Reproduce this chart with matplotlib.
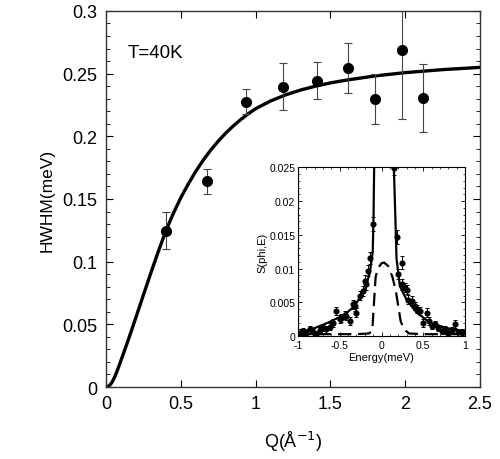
import matplotlib
matplotlib.use("Agg")
import matplotlib.pyplot as plt
from matplotlib.ticker import MultipleLocator

plt.rcParams['font.family'] = ['Liberation Sans', 'DejaVu Sans']

# ---- main panel data ----
q_data = [0.40, 0.673, 0.934, 1.18, 1.408, 1.618, 1.80, 1.976, 2.12]
hwhm = [0.1248, 0.164, 0.2275, 0.2397, 0.2445, 0.2548, 0.2296, 0.269, 0.2306]
hwhm_err = [0.015, 0.010, 0.010, 0.019, 0.015, 0.020, 0.020, 0.055, 0.027]

q_fit = [0, 0.0125, 0.025, 0.0375, 0.05, 0.0625, 0.075, 0.0875, 0.1, 0.125, 0.15,
         0.175, 0.2, 0.25, 0.3, 0.35, 0.4, 0.45, 0.5, 0.55, 0.6, 0.65, 0.7, 0.75,
         0.8, 0.85, 0.9, 0.95, 1.0, 1.1, 1.2, 1.3, 1.4, 1.5, 1.6, 1.8, 2.0, 2.25, 2.5]
hwhm_fit = [0, 0.0004, 0.0015, 0.0033, 0.006, 0.0093, 0.013, 0.0170, 0.0212, 0.0295,
            0.038, 0.0467, 0.0555, 0.0734, 0.0911, 0.1082, 0.1245, 0.1385, 0.1510,
            0.1620, 0.1720, 0.1810, 0.1890, 0.1961, 0.2025, 0.2082, 0.2133, 0.2179,
            0.2220, 0.2282, 0.2330, 0.2369, 0.2400, 0.2426, 0.2447, 0.2482, 0.2508,
            0.2532, 0.2550]

# ---- inset data ----
e_data = [-0.98, -0.94, -0.90, -0.86, -0.82, -0.78, -0.74, -0.70, -0.66, -0.62,
          -0.58, -0.54, -0.50, -0.48, -0.44, -0.42, -0.38, -0.34, -0.32, -0.30,
          -0.26, -0.22, -0.20, -0.18, -0.16, -0.14, -0.104,
          0.148, 0.185, 0.20, 0.25, 0.25, 0.28, 0.30, 0.32, 0.36, 0.40, 0.43,
          0.46, 0.50, 0.54, 0.57, 0.60, 0.64, 0.68, 0.72, 0.76, 0.80, 0.84,
          0.88, 0.92, 0.96]
s_data = [0.0005, 0.0007, 0.0004, 0.0010, 0.0006, 0.0003, 0.0009, 0.0012, 0.0010, 0.0014,
          0.0020, 0.0037, 0.0025, 0.0027, 0.0032, 0.0030, 0.0022, 0.0047, 0.0045, 0.0035,
          0.0060, 0.0067, 0.0082, 0.0077, 0.0097, 0.0116, 0.0166,
          0.0249, 0.0147, 0.0092, 0.0109, 0.0077, 0.0072, 0.0069, 0.0054, 0.0052, 0.0045, 0.0040,
          0.0037, 0.0020, 0.0035, 0.0022, 0.0015, 0.0018, 0.0012, 0.0008, 0.0010, 0.0005, 0.0009,
          0.0018, 0.0006, 0.0005]
s_err = [0.0005, 0.0005, 0.0005, 0.0005, 0.0005, 0.0005, 0.0005, 0.0005, 0.0005, 0.0005,
         0.0006, 0.0006, 0.0006, 0.0006, 0.0006, 0.0006, 0.0006, 0.0007, 0.0007, 0.0007,
         0.0007, 0.0007, 0.0008, 0.0008, 0.0008, 0.0009, 0.0010,
         0.0010, 0.0010, 0.0008, 0.0009, 0.0008, 0.0007, 0.0007, 0.0007, 0.0007, 0.0006, 0.0006,
         0.0006, 0.0006, 0.0006, 0.0006, 0.0005, 0.0005, 0.0005, 0.0005, 0.0005, 0.0005, 0.0005,
         0.0006, 0.0005, 0.0005]

e_total = [-1.0, -0.8, -0.64, -0.44, -0.32, -0.2, -0.14, -0.105, -0.095, -0.088, 0.03,
           0.148, 0.165, 0.18, 0.22, 0.3, 0.42, 0.58, 0.78, 1.0]
s_total = [0.0005, 0.0012, 0.002, 0.0032, 0.0045, 0.0069, 0.0094, 0.0125, 0.018, 0.025, 0.30,
           0.025, 0.018, 0.0115, 0.0074, 0.0054, 0.0035, 0.002, 0.0012, 0.0007]

e_dash = [-1.0, -0.6, -0.3, -0.15, -0.11, -0.09, -0.07, -0.04, 0.0, 0.03, 0.08, 0.13,
          0.17, 0.20, 0.23, 0.27, 0.33, 0.5, 1.0]
s_dash = [0.0003, 0.0003, 0.0003, 0.0004, 0.0008, 0.005, 0.0088, 0.0101, 0.0108, 0.0109,
          0.0104, 0.0088, 0.0068, 0.0045, 0.0022, 0.001, 0.0004, 0.0003, 0.0003]

fig = plt.figure(figsize=(5.0, 4.6), dpi=100)
ax = fig.add_axes([0.212, 0.1565, 0.748, 0.8175])

ax.plot(q_fit, hwhm_fit, color='black', lw=2.4, zorder=2,
        solid_joinstyle='round', solid_capstyle='round')
ax.errorbar(q_data, hwhm, yerr=hwhm_err, fmt='o', color='black', ms=7,
            ecolor='#444444', elinewidth=0.8, capsize=3, capthick=0.8, zorder=3)

ax.set_xlim(0, 2.5)
ax.set_ylim(0, 0.3)
ax.yaxis.set_minor_locator(MultipleLocator(0.01))
ax.tick_params(which='both', direction='in', top=True, right=True, labelsize=13, pad=6)
ax.tick_params(which='major', length=5, width=0.8)
ax.tick_params(which='minor', length=3, width=0.6)
ax.set_xticks([0, 0.5, 1, 1.5, 2, 2.5])
ax.set_xticklabels(['0', '0.5', '1', '1.5', '2', '2.5'])
ax.set_yticks([0, 0.05, 0.1, 0.15, 0.2, 0.25, 0.3])
ax.set_yticklabels(['0', '0.05', '0.1', '0.15', '0.2', '0.25', '0.3'])
for s in ax.spines.values():
    s.set_linewidth(1.0)
    s.set_color('#333333')

ax.set_xlabel('Q(Å$^{-1}$)', fontsize=13, labelpad=12)
ax.set_ylabel('HWHM(meV)', fontsize=12.5, labelpad=6)
ax.text(0.059, 0.878, 'T=40K', transform=ax.transAxes, fontsize=13.5)

# inset
axi = fig.add_axes([0.596, 0.267, 0.334, 0.367])
axi.plot(e_total, s_total, color='black', lw=1.6, zorder=2)
axi.plot(e_dash, s_dash, color='black', lw=1.6, dashes=(6, 3), zorder=2)
axi.errorbar(e_data, s_data, yerr=s_err, fmt='o', color='black', ms=3.4,
             ecolor='black', elinewidth=0.7, capsize=1.5, capthick=0.7, zorder=3)
axi.set_xlim(-1, 1)
axi.set_ylim(0, 0.025)
axi.set_xticks([-1, -0.5, 0, 0.5, 1])
axi.set_xticklabels(['-1', '-0.5', '0', '0.5', '1'])
axi.set_yticks([0, 0.005, 0.01, 0.015, 0.02, 0.025])
axi.set_yticklabels(['0', '0.005', '0.01', '0.015', '0.02', '0.025'])
axi.yaxis.set_minor_locator(MultipleLocator(0.001))
axi.xaxis.set_minor_locator(MultipleLocator(0.1))
axi.tick_params(which='both', direction='in', top=True, right=True, labelsize=7.5)
axi.tick_params(axis='x', pad=3)
axi.tick_params(axis='y', pad=2)
axi.tick_params(which='major', length=3, width=0.6)
axi.tick_params(which='minor', length=1.5, width=0.5)
for s in axi.spines.values():
    s.set_linewidth(0.8)
axi.set_xlabel('Energy(meV)', fontsize=8, labelpad=1)
axi.set_ylabel('S(phi,E)', fontsize=8, labelpad=1)

fig.savefig('out.png', dpi=100)
